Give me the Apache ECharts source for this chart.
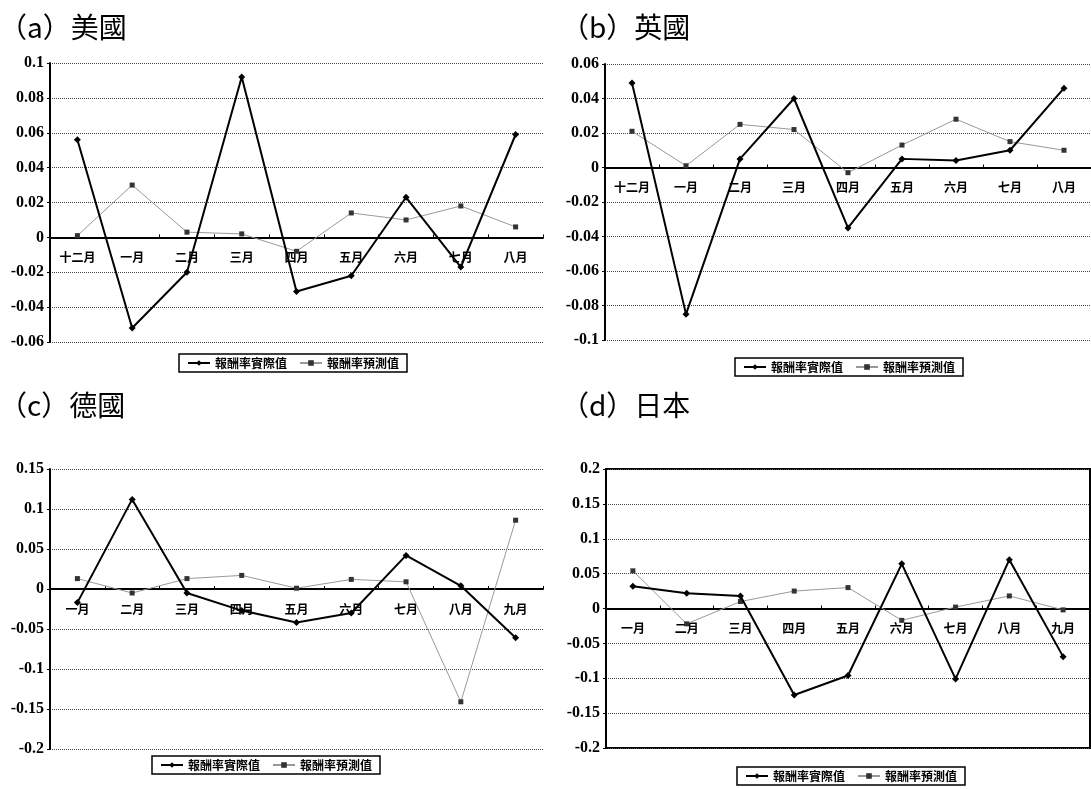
<!DOCTYPE html>
<html>
<head>
<meta charset="utf-8">
<script src="https://cdn.jsdelivr.net/npm/echarts@6/dist/echarts.min.js"></script>
<style>
html,body{margin:0;padding:0;background:#fff;}
#c{width:1091px;height:789px;}
</style>
</head>
<body>
<div id="c"></div>
<script>
// ---- Data ----
const titles = ['（a）美國', '（b）英國', '（c）德國', '（d）日本'];
const seriesNames = ['報酬率實際值', '報酬率預測值'];

const catsA = ['十二月', '一月', '二月', '三月', '四月', '五月', '六月', '七月', '八月'];
const actualA = [0.056, -0.052, -0.020, 0.092, -0.031, -0.022, 0.023, -0.017, 0.059];
const forecastA = [0.001, 0.030, 0.003, 0.002, -0.008, 0.014, 0.010, 0.018, 0.006];

const catsB = ['十二月', '一月', '二月', '三月', '四月', '五月', '六月', '七月', '八月'];
const actualB = [0.049, -0.085, 0.005, 0.040, -0.035, 0.005, 0.004, 0.010, 0.046];
const forecastB = [0.021, 0.001, 0.025, 0.022, -0.003, 0.013, 0.028, 0.015, 0.010];

const catsC = ['一月', '二月', '三月', '四月', '五月', '六月', '七月', '八月', '九月'];
const actualC = [-0.017, 0.112, -0.005, -0.027, -0.042, -0.030, 0.042, 0.004, -0.061];
const forecastC = [0.013, -0.005, 0.013, 0.017, 0.001, 0.012, 0.009, -0.141, 0.086];

const catsD = ['一月', '二月', '三月', '四月', '五月', '六月', '七月', '八月', '九月'];
const actualD = [0.032, 0.022, 0.018, -0.124, -0.096, 0.064, -0.101, 0.070, -0.069];
const forecastD = [0.054, -0.022, 0.010, 0.025, 0.030, -0.017, 0.002, 0.018, -0.002];

const yMin = [-0.06, -0.1, -0.2, -0.2];
const yMax = [0.1, 0.06, 0.15, 0.2];
const yStep = [0.02, 0.02, 0.05, 0.05];

// ---- Layout ----
const cats = [catsA, catsB, catsC, catsD];
const actual = [actualA, actualB, actualC, actualD];
const forecast = [forecastA, forecastB, forecastC, forecastD];
const grids = [
  {left: 50, top: 63, width: 493, height: 279},
  {left: 605, top: 64, width: 490, height: 276},
  {left: 50, top: 469, width: 493, height: 280},
  {left: 606, top: 469, width: 484, height: 279, show: true, borderColor: '#000', borderWidth: 2, backgroundColor: 'transparent'}
];
const titlePos = [{left: -6, top: 8}, {left: 556, top: 8}, {left: -6, top: 386}, {left: 556, top: 386}];
const legendPos = [{left: 179, top: 354}, {left: 735, top: 358}, {left: 152, top: 756}, {left: 737, top: 767}];

const chart = echarts.init(document.getElementById('c'));
const option = {
  backgroundColor: '#fff',
  animation: false,
  title: titles.map((t, i) => ({
    text: t, left: titlePos[i].left, top: titlePos[i].top,
    textStyle: {fontFamily: 'Noto Sans CJK TC', fontSize: 28, fontWeight: 'normal', color: '#000'}
  })),
  legend: legendPos.map((p, i) => ({
    left: p.left, top: p.top, orient: 'horizontal',
    data: seriesNames,
    padding: [3, 8], itemGap: 12, itemWidth: 22, itemHeight: 7,
    borderColor: '#000', borderWidth: 1.5, borderRadius: 0,
    textStyle: {fontFamily: 'Noto Sans CJK TC', fontSize: 12, fontWeight: 'bold', color: '#000'},
    selectedMode: false
  })),
  grid: grids.map(g => Object.assign({containLabel: false}, g)),
  xAxis: cats.map((c, i) => ({
    type: 'category', gridIndex: i, data: c, boundaryGap: true, position: 'bottom',
    // place the category axis on the y = 0 line of its value axis
    offset: -grids[i].height * (0 - yMin[i]) / (yMax[i] - yMin[i]),
    axisLine: {onZero: false, lineStyle: {color: '#000', width: 2}},
    axisTick: {show: true, inside: true, length: 3, interval: 0, lineStyle: {color: '#000'}},
    axisLabel: {interval: 0, margin: 14, fontFamily: 'Noto Sans CJK TC', fontSize: 12, fontWeight: 'bold', color: '#000'},
    splitLine: {show: false}
  })),
  yAxis: yMin.map((mn, i) => ({
    type: 'value', gridIndex: i, min: mn, max: yMax[i], interval: yStep[i],
    axisLine: {show: true, onZero: false, lineStyle: {color: '#000', width: 2}},
    axisTick: {show: true, length: 3, lineStyle: {color: '#000'}},
    axisLabel: {margin: 6, fontFamily: 'Liberation Serif', fontSize: 16, fontWeight: 'bold', color: '#000'},
    splitLine: {show: true, lineStyle: {color: '#444', width: 1, type: 'dotted'}}
  })),
  series: []
};
for (let i = 0; i < 4; i++) {
  option.series.push({
    name: seriesNames[0], type: 'line', xAxisIndex: i, yAxisIndex: i,
    data: actual[i], symbol: 'diamond', symbolSize: 7, z: 3,
    lineStyle: {color: '#000', width: 2},
    itemStyle: {color: '#000'}
  });
  option.series.push({
    name: seriesNames[1], type: 'line', xAxisIndex: i, yAxisIndex: i,
    data: forecast[i], symbol: 'rect', symbolSize: 5, z: 2,
    lineStyle: {color: '#999', width: 1},
    itemStyle: {color: '#333'}
  });
}
chart.setOption(option);
</script>
</body>
</html>
